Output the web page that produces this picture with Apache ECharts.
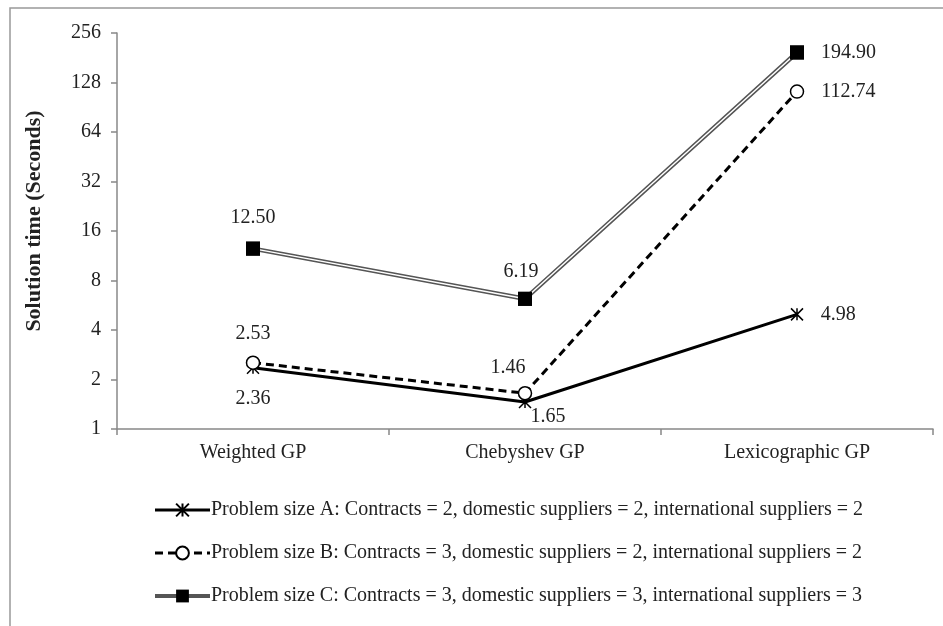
<!DOCTYPE html>
<html>
<head>
<meta charset="utf-8">
<script src="https://cdn.jsdelivr.net/npm/echarts@6/dist/echarts.min.js"></script>
<style>html,body{margin:0;padding:0;background:#fff}#c{width:943px;height:626px}</style>
</head>
<body>
<div id="c"></div>
<script>
const categories = ['Weighted GP', 'Chebyshev GP', 'Lexicographic GP'];
const seriesA = [2.36, 1.46, 4.98];
const seriesB = [2.53, 1.65, 112.74];
const seriesC = [12.50, 6.19, 194.90];
const nameA = 'Problem size A: Contracts = 2, domestic suppliers = 2, international suppliers = 2';
const nameB = 'Problem size B: Contracts = 3, domestic suppliers = 2, international suppliers = 2';
const nameC = 'Problem size C: Contracts = 3, domestic suppliers = 3, international suppliers = 3';

const FONT = '"Liberation Serif", "Times New Roman", serif';
const labelBase = {show: true, fontFamily: FONT, fontSize: 20, color: '#222', formatter: p => p.value.toFixed(2)};

// label placement per point (style only)
const posA = [{position: 'bottom', distance: 14}, {position: 'top', offset: [-17, -9], distance: 8}, {position: 'right', distance: 17}];
const posB = [{position: 'top', distance: 12}, {position: 'bottom', offset: [23, 0], distance: 6}, {position: 'right', distance: 17}];
const posC = [{position: 'top', distance: 14}, {position: 'top', offset: [-4, 0], distance: 10}, {position: 'right', distance: 17}];

function withLabels(vals, pos) {
  return vals.map((v, i) => ({value: v, label: Object.assign({}, labelBase, pos[i])}));
}

const star = 'path://M0,0L10,10M10,0L0,10M5,0L5,10';

const chart = echarts.init(document.getElementById('c'));
chart.setOption({
  animation: false,
  backgroundColor: '#fff',
  grid: {left: 117, right: 10, top: 33, bottom: 197, containLabel: false},
  xAxis: {
    type: 'category',
    data: categories,
    boundaryGap: true,
    axisLine: {lineStyle: {color: '#888', width: 1.5}},
    axisTick: {show: true, length: 6, lineStyle: {color: '#888', width: 1.5}},
    axisLabel: {fontFamily: FONT, fontSize: 20, color: '#222', margin: 14}
  },
  yAxis: {
    type: 'log',
    logBase: 2,
    min: 1,
    max: 256,
    splitNumber: 8,
    name: 'Solution time (Seconds)',
    nameLocation: 'middle',
    nameGap: 72,
    nameTextStyle: {fontFamily: FONT, fontSize: 22, fontWeight: 'bold', color: '#222', padding: [0, 0, 0, 20]},
    axisLine: {show: true, lineStyle: {color: '#888', width: 1.5}},
    axisTick: {show: true, length: 6, lineStyle: {color: '#888', width: 1.5}},
    splitLine: {show: false},
    axisLabel: {fontFamily: FONT, fontSize: 20, color: '#222', margin: 16}
  },
  legend: {
    orient: 'vertical',
    left: 148,
    top: 495,
    itemGap: 23,
    itemWidth: 55,
    itemHeight: 16,
    data: [
      {name: nameA, lineStyle: {width: 3}},
      {name: nameB, lineStyle: {width: 3}},
      {name: nameC, lineStyle: {width: 4}}
    ],
    textStyle: {fontFamily: FONT, fontSize: 20, color: '#222', padding: [0, 0, 0, -4]}
  },
  graphic: [{
    type: 'rect', silent: true, z: -1,
    shape: {x: 10, y: 8, width: 940, height: 630},
    style: {fill: 'none', stroke: '#999', lineWidth: 1.5}
  }],
  series: [
    {
      name: nameA, type: 'line', data: withLabels(seriesA, posA),
      symbol: star, symbolSize: 12,
      lineStyle: {color: '#000', width: 3},
      itemStyle: {color: '#000', borderColor: '#000', borderWidth: 1.5},
      z: 3
    },
    {
      name: nameB, type: 'line', data: withLabels(seriesB, posB),
      symbol: 'circle', symbolSize: 13,
      lineStyle: {color: '#000', width: 3, type: [8, 5]},
      itemStyle: {color: '#fff', borderColor: '#000', borderWidth: 1.5},
      z: 4
    },
    {
      name: nameC, type: 'line', data: seriesC,
      symbol: 'rect', symbolSize: 14,
      lineStyle: {color: '#555', width: 4.5},
      itemStyle: {color: '#000'},
      z: 2
    },
    {
      name: 'C-inner', type: 'line', data: seriesC, silent: true,
      symbol: 'none',
      lineStyle: {color: '#fff', width: 1.5},
      z: 2.5
    },
    {
      name: 'C-marks', type: 'line', data: withLabels(seriesC, posC), silent: true,
      symbol: 'rect', symbolSize: 14,
      lineStyle: {width: 0, opacity: 0},
      itemStyle: {color: '#000'},
      z: 5
    }
  ]
});
</script>
</body>
</html>
